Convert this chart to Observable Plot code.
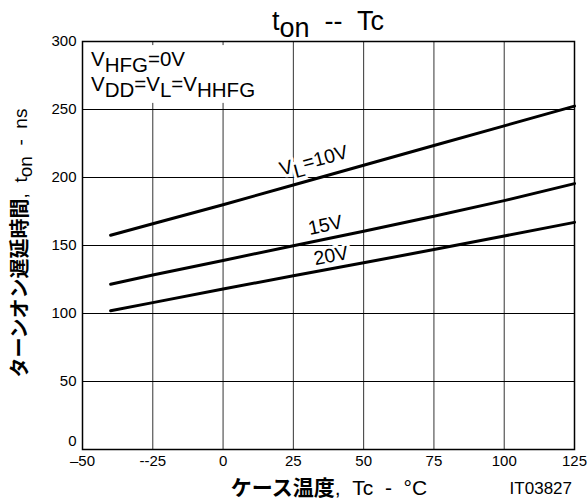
<!DOCTYPE html>
<html><head><meta charset="utf-8">
<script src="https://cdn.jsdelivr.net/npm/d3@7"></script>
<script src="https://cdn.jsdelivr.net/npm/@observablehq/plot@0.6"></script>
<style>body{margin:0;background:#fff} svg{font-family:"Liberation Sans",Arial,sans-serif}</style>
</head><body><div id="chart"></div>
<script>
// ---- data ----
const temps = [-40, -25, 0, 25, 50, 75, 100, 125];
const ton10V = [157.5, 166, 180, 194.5, 209, 223.5, 238, 252.5];
const ton15V = [121.5, 128.3, 139, 149.8, 160.5, 171.5, 183, 195.5];
const ton20V = [102, 108, 118, 127.7, 137.3, 147, 157, 167];
const seriesNames = ["10V", "15V", "20V"];
const xTicks = [-50, -25, 0, 25, 50, 75, 100, 125];
const xTickLabels = ["\u201350", "--25", "0", "25", "50", "75", "100", "125"];
const yTicks = [0, 50, 100, 150, 200, 250, 300];
// curve labels: baseline position in data units and rotation
const labelX = [33, 37, 39];
const labelY = [207.5, 160, 137.5];
const labelAngle = [-15, -12, -11];

const seriesValues = [ton10V, ton15V, ton20V];
const rows = [];
seriesNames.forEach((s, k) => temps.forEach((t, i) => rows.push({series: s, t, v: seriesValues[k][i]})));

const chart = Plot.plot({
  width: 588, height: 501,
  marginLeft: 82, marginRight: 14, marginTop: 41, marginBottom: 52,
  style: {fontFamily: "Liberation Sans, Arial, sans-serif", fontSize: "15px", color: "black", background: "white"},
  x: {domain: [-50, 125]},
  y: {domain: [0, 300]},
  marks: [
    Plot.gridX(xTicks, {stroke: "black", strokeOpacity: 0.8, strokeWidth: 1}),
    Plot.gridY(yTicks, {stroke: "black", strokeOpacity: 1, strokeWidth: 1}),
    Plot.rect([{x1: -49.3, x2: 15, y1: 254.5, y2: 297}], {x1: "x1", x2: "x2", y1: "y1", y2: "y2", fill: "white"}),
    Plot.line(rows, {x: "t", y: "v", z: "series", stroke: "black", strokeWidth: 3}),
    Plot.frame({stroke: "black", strokeWidth: 1.5}),
    Plot.axisX(xTicks, {tickSize: 0, tickPadding: 6, label: null, fontSize: 15,
      tickFormat: d => xTickLabels[xTicks.indexOf(d)]}),
    Plot.axisY(yTicks.slice(1), {tickSize: 0, tickPadding: 6, label: null, fontSize: 15}),
    Plot.axisY([0], {tickSize: 0, tickPadding: 6, label: null, fontSize: 15, dy: -8})
  ]
});
document.getElementById("chart").appendChild(chart);

const svg = d3.select(chart);
const sx = chart.scale("x"), sy = chart.scale("y");
const g = svg.append("g").attr("font-family", "Liberation Sans, Arial, sans-serif")
  .attr("fill", "black").attr("text-anchor", "start");

function richText(parent, x, y, parts, attrs = {}) {
  const t = parent.append("text").attr("x", x).attr("y", y).attr("text-anchor", "start");
  for (const [k, v] of Object.entries(attrs)) t.attr(k, v);
  for (const p of parts) {
    const ts = t.append("tspan").text(p.t);
    if (p.dy) ts.attr("dy", p.dy);
    if (p.bold) ts.attr("font-weight", "bold").attr("font-family", "Noto Sans CJK JP");
    if (p.fs) ts.attr("font-size", p.fs);
  }
  return t;
}

// title
richText(g, 328, 30, [{t: "t"}, {t: "on", dy: 7}, {t: "  --  Tc", dy: -7}],
  {"text-anchor": "middle", "font-size": 27});

// annotation
richText(g, 91, 66, [{t: "V"}, {t: "HFG", dy: 6}, {t: "=0V", dy: -6}], {"font-size": 20.5});
richText(g, 91, 91, [{t: "V"}, {t: "DD", dy: 6}, {t: "=V", dy: -6}, {t: "L", dy: 6}, {t: "=V", dy: -6}, {t: "HHFG", dy: 6}], {"font-size": 20.5});

// curve labels
const labelParts = [
  [{t: "V"}, {t: "L", dy: 6}, {t: "=10V", dy: -6}],
  [{t: "15V"}],
  [{t: "20V"}]
];
labelParts.forEach((parts, k) => {
  const px = sx.apply(labelX[k]), py = sy.apply(labelY[k]);
  const lg = g.append("g").attr("transform", `translate(${px},${py}) rotate(${labelAngle[k]})`);
  richText(lg, 0, 0, parts, {"text-anchor": "middle", "font-size": 19.5, "stroke": "white",
    "stroke-width": 6, "paint-order": "stroke", "stroke-linejoin": "round"});
});

// y axis label
const yl = g.append("g").attr("transform", "translate(27,243) rotate(-90)");
richText(yl, 0, 0, [{t: "ターンオン遅延時間", bold: true, fs: 20}, {t: ",  t"}, {t: "on", dy: 5}, {t: "  -  ns", dy: -5}],
  {"text-anchor": "middle", "font-size": 19});

// x axis label
richText(g, 329, 495, [{t: "ケース温度", bold: true}, {t: ",  Tc  -  °C"}],
  {"text-anchor": "middle", "font-size": 21});

// figure id
richText(g, 572, 494, [{t: "IT03827"}], {"text-anchor": "end", "font-size": 17});
</script>
</body></html>
